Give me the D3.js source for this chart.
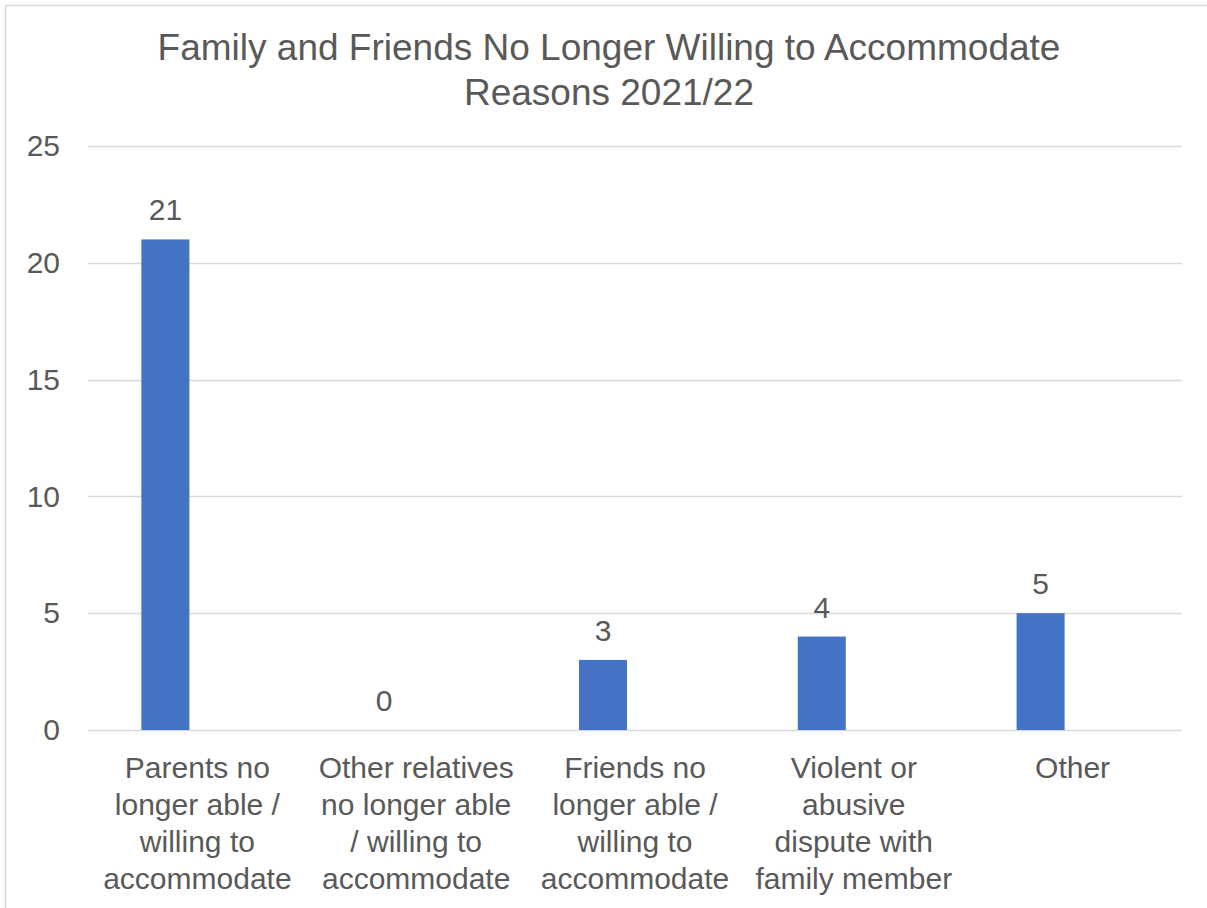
<!DOCTYPE html>
<html>
<head>
<meta charset="utf-8">
<script src="https://cdn.jsdelivr.net/npm/d3@7"></script>
<style>
  html, body { margin: 0; padding: 0; background: #fff; }
  svg { display: block; }
  text { font-family: "Liberation Sans", Arial, sans-serif; fill: #595959; }
</style>
</head>
<body>
<svg id="chart" width="1207" height="908"></svg>
<script>
const titleLines = ["Family and Friends No Longer Willing to Accommodate", "Reasons 2021/22"];
const categories = [
  "Parents no longer able / willing to accommodate",
  "Other relatives no longer able / willing to accommodate",
  "Friends no longer able / willing to accommodate",
  "Violent or abusive dispute with family member",
  "Other"
];
const categoryLines = [
  ["Parents no", "longer able /", "willing to", "accommodate"],
  ["Other relatives", "no longer able", "/ willing to", "accommodate"],
  ["Friends no", "longer able /", "willing to", "accommodate"],
  ["Violent or", "abusive", "dispute with", "family member"],
  ["Other"]
];
const values = [21, 0, 3, 4, 5];
const yTicks = [0, 5, 10, 15, 20, 25];
const subSeries = ["count", "blank"];

const svg = d3.select("#chart");
const W = 1207, H = 908;
const margin = { left: 88, right: 1182, top: 146, bottom: 730 };

// chart border
svg.append("rect")
  .attr("x", 5.5).attr("y", 5.5)
  .attr("width", W + 10).attr("height", H + 10)
  .attr("fill", "none").attr("stroke", "#D9D9D9").attr("stroke-width", 1.5);

const x = d3.scaleBand().domain(categories).range([margin.left, margin.right]).padding(0);
const x1 = d3.scaleBand().domain(subSeries).range([0, x.bandwidth()])
  .paddingInner(0.25).paddingOuter(0.834);
const y = d3.scaleLinear().domain([0, 25]).range([margin.bottom, margin.top]);

// gridlines
svg.append("g").selectAll("line").data(yTicks).join("line")
  .attr("x1", margin.left).attr("x2", margin.right)
  .attr("y1", d => Math.round(y(d)) + 0.5).attr("y2", d => Math.round(y(d)) + 0.5)
  .attr("stroke", "#D9D9D9").attr("stroke-width", 1.5);

// y axis labels
const yAxis = d3.axisLeft(y).tickValues(yTicks).tickSize(0).tickPadding(0);
const gy = svg.append("g").attr("transform", "translate(60,0)").call(yAxis);
gy.select(".domain").remove();
gy.selectAll("text").style("font-size", "30px").attr("fill", "#595959")
  .attr("font-family", "Liberation Sans, Arial, sans-serif");

// bars
const data = categories.map((c, i) => ({ c, v: values[i] }));
svg.append("g").selectAll("rect").data(data).join("rect")
  .attr("x", d => x(d.c) + x1("count"))
  .attr("width", x1.bandwidth())
  .attr("y", d => y(d.v))
  .attr("height", d => y(0) - y(d.v))
  .attr("fill", "#4472C4");

// data labels
svg.append("g").selectAll("text").data(data).join("text")
  .attr("x", d => x(d.c) + x1("count") + x1.bandwidth() / 2)
  .attr("y", d => y(d.v) - 19)
  .attr("text-anchor", "middle")
  .style("font-size", "30px")
  .text(d => d.v);

// category labels
const cat = svg.append("g").selectAll("text").data(categories).join("text")
  .attr("text-anchor", "middle")
  .style("font-size", "30px");
cat.each(function(c, i) {
  const t = d3.select(this);
  categoryLines[i].forEach((ln, j) => {
    t.append("tspan")
      .attr("x", x(c) + x.bandwidth() / 2)
      .attr("y", 778 + j * 37)
      .text(ln);
  });
});

// title
svg.append("g").selectAll("text").data(titleLines).join("text")
  .attr("x", 609)
  .attr("y", (d, i) => 60 + i * 45)
  .attr("text-anchor", "middle")
  .style("font-size", "37px")
  .text(d => d);
</script>
</body>
</html>
